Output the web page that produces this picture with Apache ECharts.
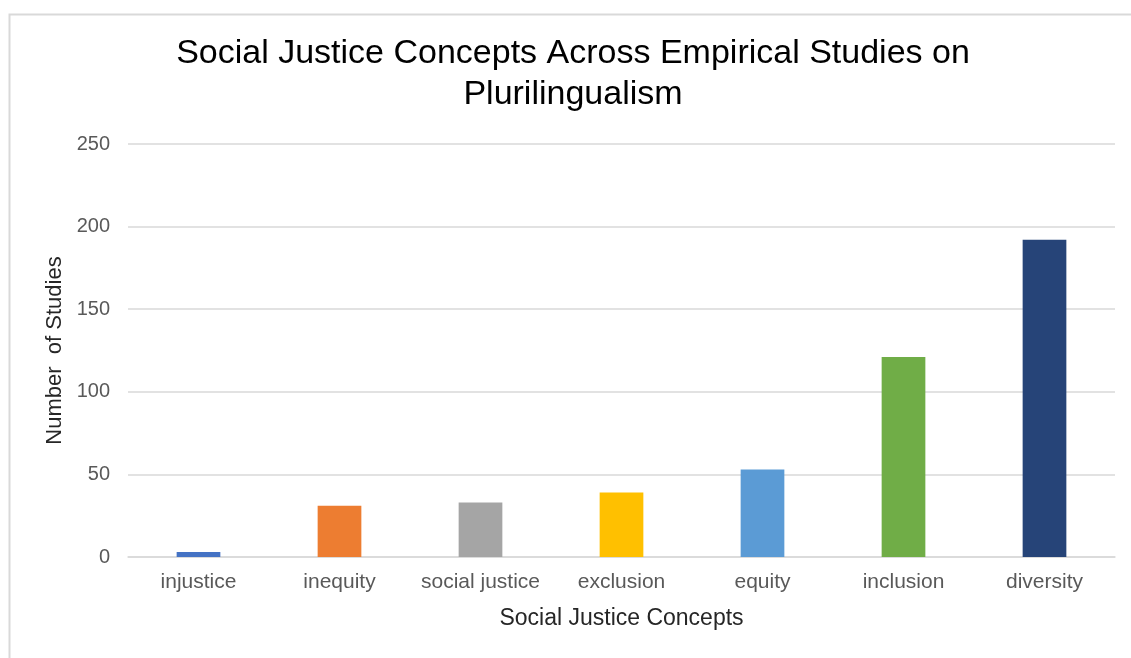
<!DOCTYPE html>
<html>
<head>
<meta charset="utf-8">
<script src="https://cdn.jsdelivr.net/npm/echarts@6/dist/echarts.min.js"></script>
<style>
  html, body { margin: 0; padding: 0; background: #fff; }
  #chart { width: 1131px; height: 658px; }
</style>
</head>
<body>
<div id="chart"></div>
<script>
// data
const concepts = ["injustice", "inequity", "social justice", "exclusion", "equity", "inclusion", "diversity"];
const studyCounts = [3, 31, 33, 39, 53, 121, 192];
const barColors = ["#4472c4", "#ed7d31", "#a5a5a5", "#ffc000", "#5b9bd5", "#70ad47", "#264478"];

const chart = echarts.init(document.getElementById("chart"));

const font = "Liberation Sans, Arial, sans-serif";
const tickColor = "#595959";

const option = {
  animation: false,
  backgroundColor: "#fff",
  // faint frame around the chart, cut off at right and bottom like the reference
  graphic: [{
    type: "rect",
    left: 7,
    top: 12,
    shape: { width: 1200, height: 700 },
    style: { fill: "none", stroke: "#d9d9d9", lineWidth: 2 },
    silent: true,
  }],
  title: {
    text: "Social Justice Concepts Across Empirical Studies on\nPlurilingualism",
    left: 568,
    textAlign: "center",
    top: 28,
    textStyle: {
      fontFamily: font,
      fontSize: 34,
      fontWeight: "normal",
      color: "#000",
      lineHeight: 41,
    },
  },
  grid: {
    left: 128,
    right: 16,
    top: 144,
    bottom: 101,
  },
  xAxis: {
    type: "category",
    data: concepts,
    name: "Social Justice Concepts",
    nameLocation: "middle",
    nameGap: 50,
    nameTextStyle: { fontFamily: font, fontSize: 23, color: "#262626" },
    axisLine: { lineStyle: { color: "#d9d9d9", width: 1.5 } },
    axisTick: { show: false },
    axisLabel: {
      fontFamily: font,
      fontSize: 21,
      color: tickColor,
      margin: 15,
      interval: 0,
    },
  },
  yAxis: {
    type: "value",
    min: 0,
    max: 250,
    interval: 50,
    name: "Number  of Studies",
    nameLocation: "middle",
    nameGap: 46,
    nameTextStyle: { fontFamily: font, fontSize: 22, color: "#262626" },
    axisLine: { show: false },
    axisTick: { show: false },
    axisLabel: {
      fontFamily: font,
      fontSize: 20,
      color: tickColor,
      margin: 18,
      align: "right",
    },
    splitLine: { lineStyle: { color: "#d9d9d9", width: 1.5 } },
  },
  series: [{
    type: "bar",
    data: studyCounts.map((v, i) => ({ value: v, itemStyle: { color: barColors[i] } })),
    barWidth: "31%",
  }],
};

chart.setOption(option);
</script>
</body>
</html>
